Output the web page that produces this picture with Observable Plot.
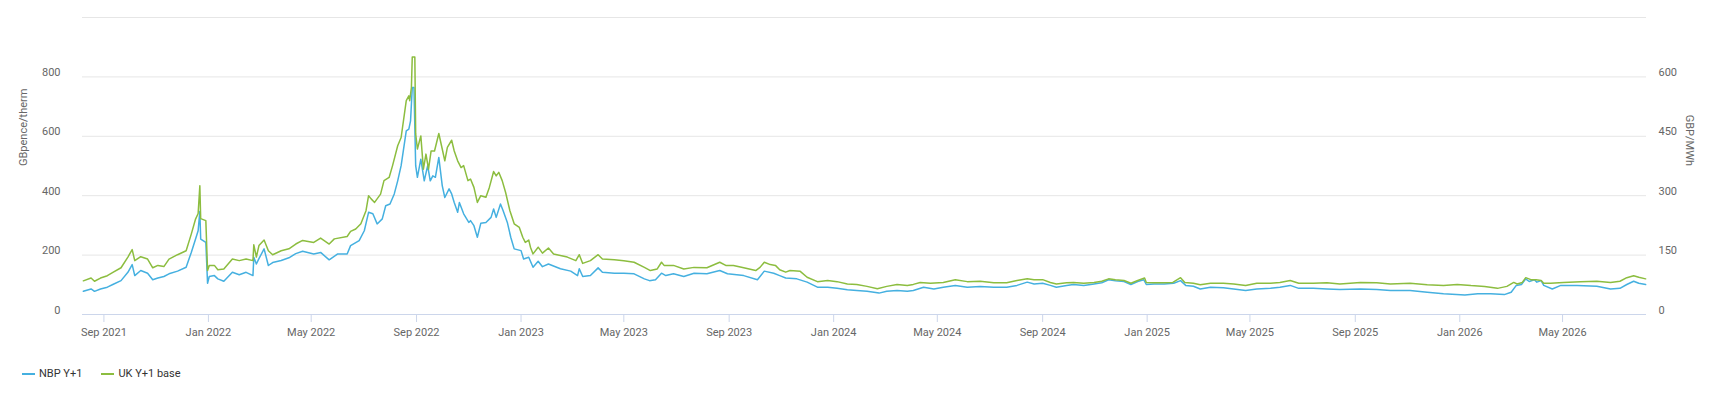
<!DOCTYPE html>
<html><head><meta charset="utf-8">
<script src="https://cdn.jsdelivr.net/npm/d3@7"></script>
<script src="https://cdn.jsdelivr.net/npm/@observablehq/plot@0.6"></script>
<style>
body{margin:0;background:#fff;font-family:Roboto,sans-serif;}
#chart{position:relative;width:1718px;height:402px;}
.legend{position:absolute;left:22px;top:367px;display:flex;align-items:center;font-size:11px;color:#333;}
.item{display:flex;align-items:center;margin-right:19px;}
.sw{width:13px;height:2px;margin-right:4px;}
</style></head><body><div id="chart"></div>
<script>
// Series names / colours
const seriesNames = ["NBP Y+1", "UK Y+1 base"];
const seriesColors = ["#45b0e0", "#8cbd3f"];

// Axis ticks
const leftTicks = [0, 200, 400, 600, 800];
const leftGrid = [0, 200, 400, 600, 800, 1000];
const rightTicks = [0, 150, 300, 450, 600];
const xTicks = ["2021-09-01","2022-01-01","2022-05-01","2022-09-01","2023-01-01","2023-05-01","2023-09-01",
  "2024-01-01","2024-05-01","2024-09-01","2025-01-01","2025-05-01","2025-09-01","2026-01-01","2026-05-01"];

// NBP Y+1, GBpence/therm (left axis)
const nbpY1 = [
["2021-08-08",78],["2021-08-17",86],["2021-08-21",78],["2021-08-28",86],["2021-09-05",92],["2021-09-12",102],
["2021-09-21",114],["2021-09-29",142],["2021-10-04",168],["2021-10-07",131],["2021-10-14",148],["2021-10-22",139],
["2021-10-28",117],["2021-11-03",123],["2021-11-10",128],["2021-11-16",137],["2021-11-26",146],["2021-12-06",159],
["2021-12-12",209],["2021-12-17",254],["2021-12-20",282],["2021-12-22",347],["2021-12-23",254],["2021-12-29",243],
["2021-12-31",105],["2022-01-02",128],["2022-01-08",131],["2022-01-12",120],["2022-01-19",112],["2022-01-29",142],
["2022-02-06",134],["2022-02-14",142],["2022-02-22",131],["2022-02-23",193],["2022-02-26",170],["2022-03-01",188],
["2022-03-07",221],["2022-03-12",165],["2022-03-17",175],["2022-03-27",182],["2022-04-05",191],["2022-04-13",205],
["2022-04-21",213],["2022-05-04",204],["2022-05-12",209],
["2022-05-22",184],["2022-06-01",204],["2022-06-12",204],["2022-06-16",232],["2022-06-26",249],["2022-07-02",282],
["2022-07-07",344],["2022-07-12",339],["2022-07-17",305],["2022-07-23",322],["2022-07-27",366],["2022-08-01",372],
["2022-08-06",406],["2022-08-10",450],["2022-08-14",501],["2022-08-20",618],["2022-08-23",624],["2022-08-25",652],
["2022-08-27",764],["2022-08-29",764],["2022-08-31",501],["2022-09-02",462],["2022-09-06",523],["2022-09-10",450],
["2022-09-14",501],["2022-09-17",450],["2022-09-20",467],["2022-09-23",462],["2022-09-27",529],["2022-10-01",434],
["2022-10-04",394],["2022-10-09",423],["2022-10-12",406],["2022-10-15",377],["2022-10-19",344],["2022-10-21",377],
["2022-10-26",339],["2022-11-01",310],["2022-11-03",316],["2022-11-07",299],["2022-11-11",260],["2022-11-15",307],
["2022-11-21",310],["2022-11-27",327],["2022-11-30",355],["2022-12-03",327],["2022-12-08",372],["2022-12-11",350],
["2022-12-16",310],["2022-12-20",260],["2022-12-24",221],["2023-01-01",215],["2023-01-04",187],["2023-01-10",193],
["2023-01-15",159],["2023-01-21",179],["2023-01-26",161],["2023-02-02",170],["2023-02-16",154],["2023-02-28",146],
["2023-03-08",131],["2023-03-10",154],["2023-03-14",128],["2023-03-23",131],["2023-04-01",157],["2023-04-06",142],
["2023-04-20",139],["2023-05-01",139],["2023-05-13",137],["2023-05-25",120],["2023-05-31",114],["2023-06-07",117],
["2023-06-14",139],["2023-06-19",131],["2023-06-28",137],["2023-07-10",128],["2023-07-22",139],["2023-08-06",137],
["2023-08-21",148],["2023-08-30",137],["2023-09-18",131],["2023-10-04",117],["2023-10-12",146],["2023-10-23",139],
["2023-10-30",131],
["2023-11-06",123],["2023-11-19",120],["2023-12-01",109],["2023-12-13",92],["2023-12-25",92],["2024-01-05",88],
["2024-01-17",83],["2024-01-28",81],["2024-02-09",78],["2024-02-23",72],["2024-03-03",78],["2024-03-15",81],
["2024-03-27",78],["2024-04-03",81],["2024-04-15",92],["2024-04-27",86],["2024-05-08",92],["2024-05-22",98],
["2024-06-05",92],["2024-06-20",94],["2024-07-06",92],["2024-07-21",92],["2024-08-02",98],["2024-08-14",109],
["2024-08-22",103],["2024-09-01",105],["2024-09-10",98],
["2024-09-17",92],["2024-09-29",98],["2024-10-07",101],["2024-10-19",98],["2024-10-31",103],["2024-11-09",107],
["2024-11-17",117],["2024-11-25",114],["2024-12-05",111],["2024-12-13",101],["2024-12-21",111],["2024-12-28",117],
["2024-12-31",101],["2025-01-09",103],["2025-01-21",103],["2025-02-01",105],["2025-02-09",114],["2025-02-15",98],
["2025-02-24",95],["2025-03-04",86],["2025-03-16",92],["2025-03-31",90],["2025-04-12",86],["2025-04-26",81],
["2025-05-09",86],["2025-05-25",88],["2025-06-05",92],["2025-06-17",98],["2025-06-27",88],["2025-07-14",88],
["2025-07-30",86],["2025-08-14",84],
["2025-09-07",86],["2025-09-26",84],["2025-10-12",81],["2025-11-04",81],["2025-11-24",75],["2025-12-13",70],
["2026-01-07",66],["2026-01-22",70],["2026-02-06",70],["2026-02-22",67],["2026-03-02",75],["2026-03-08",98],
["2026-03-14",101],["2026-03-19",120],["2026-03-23",111],["2026-03-29",117],["2026-04-01",109],["2026-04-06",114],
["2026-04-09",98],["2026-04-19",86],["2026-04-29",98],["2026-05-18",98],["2026-06-10",95],["2026-06-26",86],
["2026-07-07",88],["2026-07-15",101],["2026-07-23",112],["2026-07-29",105],["2026-08-06",101]
];

// UK Y+1 base, GBP/MWh (right axis)
const ukY1Base = [
["2021-08-08",85],["2021-08-17",92],["2021-08-21",84],["2021-08-28",92],["2021-09-05",98],["2021-09-12",107],
["2021-09-21",118],["2021-09-29",145],["2021-10-04",164],["2021-10-07",136],["2021-10-14",146],["2021-10-22",140],
["2021-10-28",118],["2021-11-03",124],["2021-11-10",121],["2021-11-16",140],["2021-11-26",151],["2021-12-06",161],
["2021-12-12",203],["2021-12-17",241],["2021-12-20",255],["2021-12-22",325],["2021-12-23",242],["2021-12-29",237],
["2021-12-31",111],["2022-01-02",124],["2022-01-08",124],["2022-01-12",113],["2022-01-19",115],["2022-01-29",140],
["2022-02-06",136],["2022-02-14",140],["2022-02-22",136],["2022-02-23",176],["2022-02-26",145],["2022-03-01",174],
["2022-03-07",188],["2022-03-12",161],["2022-03-17",151],["2022-03-27",161],["2022-04-05",166],["2022-04-13",178],
["2022-04-21",187],["2022-05-04",182],["2022-05-12",193],
["2022-05-22",178],["2022-05-28",191],["2022-06-12",197],["2022-06-16",210],["2022-06-22",216],["2022-06-28",229],
["2022-07-04",262],["2022-07-07",300],["2022-07-10",292],["2022-07-14",283],["2022-07-21",304],["2022-07-25",338],
["2022-07-31",346],["2022-08-04",376],["2022-08-10",426],["2022-08-14",447],["2022-08-20",540],["2022-08-23",552],
["2022-08-24",540],["2022-08-26",573],["2022-08-27",650],["2022-08-30",650],["2022-08-31",456],["2022-09-02",418],
["2022-09-06",451],["2022-09-09",367],["2022-09-12",405],["2022-09-15",367],["2022-09-18",413],["2022-09-22",413],
["2022-09-27",457],["2022-10-01",418],["2022-10-04",388],["2022-10-07",422],["2022-10-12",440],["2022-10-15",413],
["2022-10-19",388],["2022-10-23",371],["2022-10-26",376],["2022-10-31",338],["2022-11-03",342],["2022-11-07",321],
["2022-11-11",283],["2022-11-15",300],["2022-11-21",296],["2022-11-25",321],["2022-11-30",361],["2022-12-03",350],
["2022-12-06",359],["2022-12-10",338],["2022-12-14",308],["2022-12-19",262],["2022-12-24",229],["2022-12-30",220],
["2023-01-03",195],["2023-01-06",182],["2023-01-10",188],["2023-01-12",170],
["2023-01-15",153],["2023-01-21",170],["2023-01-26",155],["2023-02-02",168],["2023-02-08",153],["2023-02-24",145],
["2023-03-06",136],["2023-03-10",151],["2023-03-14",129],["2023-03-23",136],["2023-04-01",151],["2023-04-06",140],
["2023-04-20",138],["2023-05-01",136],["2023-05-13",132],["2023-05-25",119],["2023-06-01",111],["2023-06-09",115],
["2023-06-14",132],["2023-06-17",124],["2023-06-28",124],["2023-07-10",115],["2023-07-22",119],["2023-08-06",118],
["2023-08-21",132],["2023-08-28",124],["2023-09-06",124],["2023-09-18",118],["2023-10-02",111],["2023-10-07",119],
["2023-10-12",132],["2023-10-19",126],["2023-10-25",124],["2023-10-30",113],
["2023-11-06",107],["2023-11-11",111],["2023-11-23",109],["2023-12-01",94],["2023-12-13",83],["2023-12-25",86],
["2024-01-05",83],["2024-01-17",77],["2024-01-28",76],["2024-02-09",71],["2024-02-21",65],["2024-03-03",71],
["2024-03-15",76],["2024-03-27",73],["2024-04-03",76],["2024-04-11",81],["2024-04-23",79],["2024-05-08",81],
["2024-05-22",88],["2024-06-05",83],["2024-06-20",84],["2024-07-06",80],["2024-07-21",80],["2024-08-02",86],
["2024-08-14",90],["2024-08-22",88],["2024-09-01",88],["2024-09-10",81],
["2024-09-17",77],["2024-09-29",80],["2024-10-07",81],["2024-10-19",79],["2024-10-31",81],["2024-11-09",84],
["2024-11-17",90],["2024-11-25",88],["2024-12-05",86],["2024-12-13",79],["2024-12-21",86],["2024-12-29",92],
["2024-12-31",81],["2025-01-09",80],["2025-01-21",80],["2025-01-31",81],["2025-02-09",93],["2025-02-14",81],
["2025-02-24",79],["2025-03-04",75],["2025-03-16",79],["2025-03-31",79],["2025-04-12",77],["2025-04-26",73],
["2025-05-09",79],["2025-05-25",79],["2025-06-05",81],["2025-06-17",86],["2025-06-27",79],["2025-07-14",79],
["2025-07-30",80],["2025-08-14",77],
["2025-09-07",81],["2025-09-26",80],["2025-10-12",77],["2025-11-04",79],["2025-11-24",75],["2025-12-13",73],
["2025-12-29",76],["2026-01-14",73],["2026-01-30",71],["2026-02-14",66],["2026-02-25",71],["2026-03-05",81],
["2026-03-09",77],["2026-03-15",81],["2026-03-19",93],["2026-03-25",88],["2026-03-31",88],["2026-04-06",86],
["2026-04-09",79],["2026-04-17",79],["2026-05-02",81],["2026-05-22",83],["2026-06-10",84],["2026-06-26",81],
["2026-07-07",84],["2026-07-15",93],["2026-07-23",98],["2026-07-29",94],["2026-08-06",90]
];

const parse = d3.utcParse("%Y-%m-%d");
const ratio = 800 / 600; // left 800 aligns with right 600
const nbpData = nbpY1.map(([d, v]) => ({date: parse(d), value: v}));
const ukData = ukY1Base.map(([d, v]) => ({date: parse(d), value: v}));

const chart = Plot.plot({
  width: 1718, height: 345,
  marginLeft: 82, marginRight: 72, marginTop: 17, marginBottom: 31,
  style: {fontFamily: "Roboto", fontSize: "11px", color: "#666", background: "#fff", overflow: "visible"},
  x: {type: "utc", domain: [parse("2021-08-07"), parse("2026-08-07")]},
  y: {domain: [0, 1000]},
  marks: [
    Plot.gridY(leftGrid, {stroke: "#e6e6e6", strokeOpacity: 1}),
    Plot.ruleY([0], {stroke: "#ccd6eb"}),
    Plot.axisY(leftTicks, {anchor: "left", tickSize: 0, tickPadding: 22, dy: -4.5, label: null, fill: "#666"}),
    Plot.axisY(rightTicks.map(v => v * ratio), {anchor: "right", tickSize: 0, tickPadding: 12, dy: -4.5, label: null,
      tickFormat: d => String(Math.round(d / ratio)), fill: "#666"}),
    Plot.axisX(xTicks.map(parse), {anchor: "bottom", tickSize: 8, tickPadding: 6, stroke: "#ccd6eb", fill: "#666",
      tickFormat: d3.utcFormat("%b %Y"), label: null}),
    Plot.text(["GBpence/therm"], {text: d => d, frameAnchor: "left", dx: -59, rotate: -90, fill: "#666"}),
    Plot.text(["GBP/MWh"], {text: d => d, frameAnchor: "right", dx: 43, rotate: 90, fill: "#666"}),
    Plot.line(nbpData, {x: "date", y: "value", stroke: seriesColors[0], strokeWidth: 1.5}),
    Plot.line(ukData, {x: "date", y: d => d.value * ratio, stroke: seriesColors[1], strokeWidth: 1.5})
  ]
});
const root = document.getElementById("chart");
root.appendChild(chart);

const legend = document.createElement("div");
legend.className = "legend";
seriesNames.forEach((name, i) => {
  const item = document.createElement("div");
  item.className = "item";
  const sw = document.createElement("span");
  sw.className = "sw";
  sw.style.background = seriesColors[i];
  const label = document.createElement("span");
  label.textContent = name;
  item.appendChild(sw); item.appendChild(label);
  legend.appendChild(item);
});
root.appendChild(legend);
</script></body></html>
